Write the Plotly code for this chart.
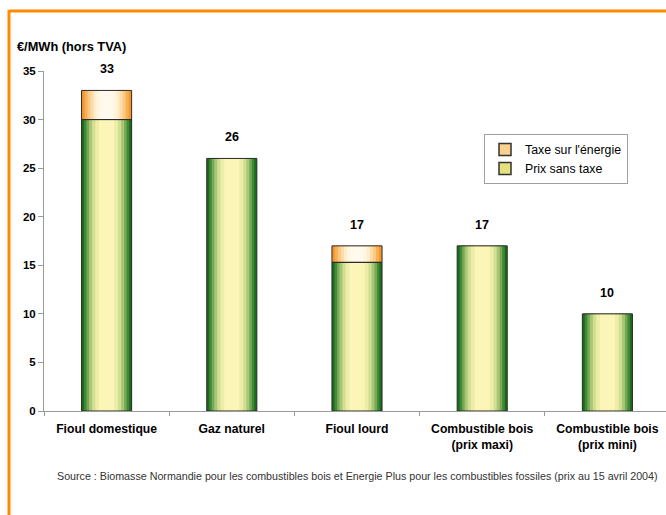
import plotly.graph_objects as go

categories = ["Fioul domestique", "Gaz naturel", "Fioul lourd",
              "Combustible bois<br>(prix maxi)", "Combustible bois<br>(prix mini)"]
prix_sans_taxe = [30, 26, 15.3, 17, 10]
taxe_energie = [3, None, 1.7, None, None]
totals_label = [33, 26, 17, 17, 10]
y_ticks = [0, 5, 10, 15, 20, 25, 30, 35]

W, H = 666, 515
ML, MR, MT, MB = 44, 0, 71, 104
PW, PH = W - ML - MR, H - MT - MB


def px_x(x):
    return (x - ML) / PW


def px_y(y):
    return (H - MB - y) / PH


FONT = "Liberation Sans, Arial, sans-serif"
BAR_W = 0.40

green_layers = [(1.00, "#1d6a1d"), (0.90, "#3f8a35"), (0.80, "#76a855"),
                (0.70, "#a8c676"), (0.58, "#d2df93"), (0.45, "#eeeda8"), (0.30, "#fbf6b8")]
orange_layers = [(1.00, "#f5962e"), (0.88, "#f8b055"), (0.76, "#fbc984"),
                 (0.64, "#fddcab"), (0.52, "#feecca"), (0.40, "#fff6e0"), (0.26, "#fffaec")]

fig = go.Figure()

for frac, col in green_layers:
    fig.add_trace(go.Bar(x=categories, y=prix_sans_taxe, width=BAR_W * frac,
                         marker=dict(color=col, line=dict(width=0)),
                         showlegend=False, hoverinfo="skip"))
for frac, col in orange_layers:
    fig.add_trace(go.Bar(x=categories, y=taxe_energie, base=prix_sans_taxe,
                         width=BAR_W * frac,
                         marker=dict(color=col, line=dict(width=0)),
                         showlegend=False, hoverinfo="skip"))
fig.add_trace(go.Bar(x=categories, y=prix_sans_taxe, width=BAR_W,
                     marker=dict(color="rgba(0,0,0,0)", line=dict(color="#2a2a2a", width=1)),
                     showlegend=False, hoverinfo="skip"))
fig.add_trace(go.Bar(x=categories, y=taxe_energie, base=prix_sans_taxe, width=BAR_W,
                     marker=dict(color="rgba(0,0,0,0)", line=dict(color="#2a2a2a", width=1)),
                     showlegend=False, hoverinfo="skip"))
fig.add_trace(go.Bar(x=categories, y=[None] * len(categories), name="Taxe sur l'énergie",
                     marker=dict(color="#fcd08e", line=dict(color="#333333", width=1.5)),
                     legendrank=1))
fig.add_trace(go.Bar(x=categories, y=[None] * len(categories), name="Prix sans taxe",
                     marker=dict(color="#e4e27a", line=dict(color="#333333", width=1.5)),
                     legendrank=2))

annotations = []
for cat, tot in zip(categories, totals_label):
    annotations.append(dict(x=cat, y=tot, xref="x", yref="y", text=f"<b>{tot}</b>",
                            showarrow=False, yanchor="bottom", yshift=12,
                            font=dict(family=FONT, size=12.5, color="#000")))
annotations.append(dict(x=px_x(15), y=px_y(46), xref="paper", yref="paper",
                        text="<b>€/MWh (hors TVA)</b>", showarrow=False,
                        xanchor="left", yanchor="middle",
                        font=dict(family=FONT, size=12.8, color="#000")))
annotations.append(dict(x=px_x(357), y=px_y(476), xref="paper", yref="paper",
                        text="Source : Biomasse Normandie pour les combustibles bois et Energie Plus pour les combustibles fossiles (prix au 15 avril 2004)",
                        showarrow=False, xanchor="center", yanchor="middle",
                        font=dict(family=FONT, size=10.7, color="#333")))

shapes = [
    dict(type="line", xref="paper", yref="paper", x0=px_x(9), x1=px_x(666),
         y0=px_y(11), y1=px_y(11), line=dict(color="#ff8a00", width=3)),
    dict(type="line", xref="paper", yref="paper", x0=px_x(9), x1=px_x(9),
         y0=px_y(10), y1=px_y(515), line=dict(color="#ff8a00", width=3)),
]

fig.update_layout(
    width=W, height=H,
    margin=dict(l=ML, r=MR, t=MT, b=MB),
    paper_bgcolor="white", plot_bgcolor="white",
    barmode="overlay",
    font=dict(family=FONT, size=11, color="#000"),
    xaxis=dict(type="category", range=[-0.5, -0.5 + PW / 125.2],
               showline=True, linecolor="#9a9a9a", linewidth=1,
               ticks="outside", tickson="boundaries", ticklen=4, tickcolor="#9a9a9a",
               ticklabelstandoff=6,
               tickfont=dict(family=FONT, size=12.2, color="#000", weight="bold"),
               showgrid=False, zeroline=False),
    yaxis=dict(range=[0, 35], tickvals=y_ticks, showline=True, linecolor="#9a9a9a",
               linewidth=1, ticks="outside", ticklen=5, tickcolor="#9a9a9a",
               tickfont=dict(family=FONT, size=11.5, color="#000", weight="bold"),
               showgrid=False, zeroline=False),
    legend=dict(x=px_x(484), y=px_y(134), xanchor="left", yanchor="top",
                bordercolor="#a0a0a0", borderwidth=1, bgcolor="white",
                font=dict(family=FONT, size=12.3, color="#000"),
                itemwidth=30, traceorder="normal"),
    annotations=annotations,
    shapes=shapes,
)

fig.write_html("out.html")
